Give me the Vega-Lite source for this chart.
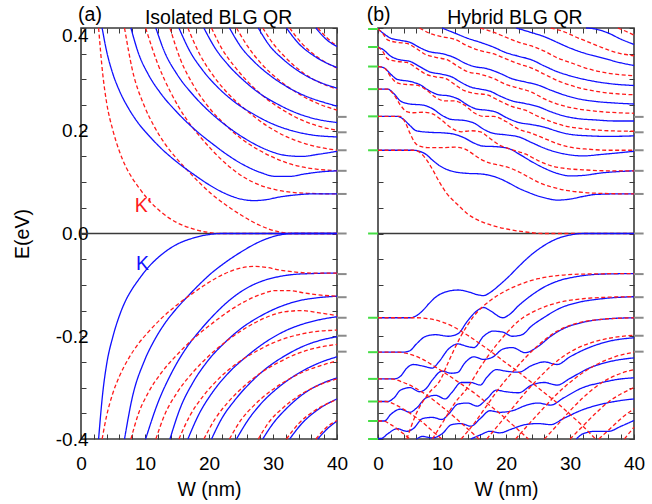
{
"$schema":"https://vega.github.io/schema/vega-lite/v6.json",
"background":"white",
"padding":{"left":11,"top":4,"right":5,"bottom":5},
"config":{"font":"Liberation Sans","view":{"stroke":"#3a3a3a","strokeWidth":1.6},
"axis":{"grid":false,"domain":false,"tickColor":"#3a3a3a","tickSize":-5,"tickWidth":1,"labelFontSize":19,"labelColor":"#000","titleFontSize":19.5,"titleFontWeight":"normal","titleColor":"#000","labelOverlap":false,"labelFlush":false}},
"datasets":{
"A":[
{"c":"R1","s":"K'","x":2.75,"y":0.4},{"c":"R1","s":"K'","x":3.4,"y":0.31},{"c":"R1","s":"K'","x":4,"y":0.255},{"c":"R1","s":"K'","x":5,"y":0.2},{"c":"R1","s":"K'","x":6,"y":0.16},{"c":"R1","s":"K'","x":7,"y":0.13},{"c":"R1","s":"K'","x":8,"y":0.108},{"c":"R1","s":"K'","x":9,"y":0.09},{"c":"R1","s":"K'","x":10.5,"y":0.066},{"c":"R1","s":"K'","x":12.5,"y":0.042},{"c":"R1","s":"K'","x":15,"y":0.021},{"c":"R1","s":"K'","x":17.5,"y":0.009},{"c":"R1","s":"K'","x":20,"y":0.002},{"c":"R1","s":"K'","x":22,"y":0},{"c":"R1","s":"K'","x":40,"y":0},
{"c":"R2","s":"K'","x":6.8,"y":0.4},{"c":"R2","s":"K'","x":8,"y":0.32},{"c":"R2","s":"K'","x":9.9,"y":0.248},{"c":"R2","s":"K'","x":11.5,"y":0.207},{"c":"R2","s":"K'","x":13.1,"y":0.175},{"c":"R2","s":"K'","x":14.8,"y":0.148},{"c":"R2","s":"K'","x":16.7,"y":0.122},{"c":"R2","s":"K'","x":18.5,"y":0.099},{"c":"R2","s":"K'","x":20.3,"y":0.078},{"c":"R2","s":"K'","x":22.7,"y":0.055},{"c":"R2","s":"K'","x":25,"y":0.036},{"c":"R2","s":"K'","x":27.9,"y":0.016},{"c":"R2","s":"K'","x":31,"y":0.003},{"c":"R2","s":"K'","x":33,"y":0},{"c":"R2","s":"K'","x":40,"y":0},
{"c":"R3","s":"K'","x":10.1,"y":0.4},{"c":"R3","s":"K'","x":12,"y":0.33},{"c":"R3","s":"K'","x":14,"y":0.275},{"c":"R3","s":"K'","x":16.5,"y":0.222},{"c":"R3","s":"K'","x":18.5,"y":0.19},{"c":"R3","s":"K'","x":20.5,"y":0.162},{"c":"R3","s":"K'","x":23,"y":0.132},{"c":"R3","s":"K'","x":25.8,"y":0.107},{"c":"R3","s":"K'","x":28,"y":0.094},{"c":"R3","s":"K'","x":30.5,"y":0.085},{"c":"R3","s":"K'","x":33,"y":0.08},{"c":"R3","s":"K'","x":36,"y":0.078},{"c":"R3","s":"K'","x":40,"y":0.077},
{"c":"R4","s":"K'","x":13.9,"y":0.4},{"c":"R4","s":"K'","x":15.5,"y":0.34},{"c":"R4","s":"K'","x":17.5,"y":0.29},{"c":"R4","s":"K'","x":20,"y":0.245},{"c":"R4","s":"K'","x":22.5,"y":0.212},{"c":"R4","s":"K'","x":25,"y":0.185},{"c":"R4","s":"K'","x":28,"y":0.161},{"c":"R4","s":"K'","x":31,"y":0.143},{"c":"R4","s":"K'","x":34,"y":0.131},{"c":"R4","s":"K'","x":37,"y":0.125},{"c":"R4","s":"K'","x":40,"y":0.122},
{"c":"R5","s":"K'","x":16.7,"y":0.4},{"c":"R5","s":"K'","x":18.5,"y":0.35},{"c":"R5","s":"K'","x":20.5,"y":0.31},{"c":"R5","s":"K'","x":23,"y":0.272},{"c":"R5","s":"K'","x":26,"y":0.238},{"c":"R5","s":"K'","x":29,"y":0.21},{"c":"R5","s":"K'","x":32,"y":0.189},{"c":"R5","s":"K'","x":35,"y":0.175},{"c":"R5","s":"K'","x":38,"y":0.166},{"c":"R5","s":"K'","x":40,"y":0.162},
{"c":"R6","s":"K'","x":20.4,"y":0.4},{"c":"R6","s":"K'","x":22,"y":0.36},{"c":"R6","s":"K'","x":24,"y":0.325},{"c":"R6","s":"K'","x":26.5,"y":0.29},{"c":"R6","s":"K'","x":29,"y":0.262},{"c":"R6","s":"K'","x":32,"y":0.237},{"c":"R6","s":"K'","x":35,"y":0.218},{"c":"R6","s":"K'","x":38,"y":0.206},{"c":"R6","s":"K'","x":40,"y":0.201},
{"c":"R7","s":"K'","x":24.3,"y":0.4},{"c":"R7","s":"K'","x":26,"y":0.365},{"c":"R7","s":"K'","x":28,"y":0.333},{"c":"R7","s":"K'","x":31,"y":0.298},{"c":"R7","s":"K'","x":34,"y":0.272},{"c":"R7","s":"K'","x":37,"y":0.253},{"c":"R7","s":"K'","x":40,"y":0.24},
{"c":"R8","s":"K'","x":28.4,"y":0.4},{"c":"R8","s":"K'","x":30,"y":0.37},{"c":"R8","s":"K'","x":32,"y":0.342},{"c":"R8","s":"K'","x":35,"y":0.31},{"c":"R8","s":"K'","x":38,"y":0.29},{"c":"R8","s":"K'","x":40,"y":0.281},
{"c":"R9","s":"K'","x":32.6,"y":0.4},{"c":"R9","s":"K'","x":34.5,"y":0.37},{"c":"R9","s":"K'","x":37,"y":0.343},{"c":"R9","s":"K'","x":40,"y":0.322},
{"c":"R10","s":"K'","x":37,"y":0.4},{"c":"R10","s":"K'","x":38.5,"y":0.38},{"c":"R10","s":"K'","x":40,"y":0.365},
{"c":"B1","s":"K","x":3.3,"y":0.4},{"c":"B1","s":"K","x":4,"y":0.355},{"c":"B1","s":"K","x":5,"y":0.31},{"c":"B1","s":"K","x":6,"y":0.278},{"c":"B1","s":"K","x":7.5,"y":0.242},{"c":"B1","s":"K","x":9,"y":0.214},{"c":"B1","s":"K","x":10.5,"y":0.192},{"c":"B1","s":"K","x":12.5,"y":0.166},{"c":"B1","s":"K","x":15,"y":0.139},{"c":"B1","s":"K","x":17.5,"y":0.116},{"c":"B1","s":"K","x":20,"y":0.095},{"c":"B1","s":"K","x":22.5,"y":0.078},{"c":"B1","s":"K","x":25,"y":0.067},{"c":"B1","s":"K","x":27,"y":0.064},{"c":"B1","s":"K","x":29,"y":0.066},{"c":"B1","s":"K","x":31,"y":0.071},{"c":"B1","s":"K","x":33.5,"y":0.075},{"c":"B1","s":"K","x":36,"y":0.077},{"c":"B1","s":"K","x":40,"y":0.077},
{"c":"B2","s":"K","x":7.8,"y":0.4},{"c":"B2","s":"K","x":9,"y":0.35},{"c":"B2","s":"K","x":10.5,"y":0.31},{"c":"B2","s":"K","x":12.5,"y":0.272},{"c":"B2","s":"K","x":15,"y":0.236},{"c":"B2","s":"K","x":18,"y":0.2},{"c":"B2","s":"K","x":20.5,"y":0.175},{"c":"B2","s":"K","x":23,"y":0.152},{"c":"B2","s":"K","x":25.5,"y":0.133},{"c":"B2","s":"K","x":28,"y":0.119},{"c":"B2","s":"K","x":30.5,"y":0.111},{"c":"B2","s":"K","x":32.5,"y":0.111},{"c":"B2","s":"K","x":35,"y":0.116},{"c":"B2","s":"K","x":37.5,"y":0.12},{"c":"B2","s":"K","x":40,"y":0.122},
{"c":"B3","s":"K","x":11.7,"y":0.4},{"c":"B3","s":"K","x":13,"y":0.355},{"c":"B3","s":"K","x":15,"y":0.31},{"c":"B3","s":"K","x":17.5,"y":0.27},{"c":"B3","s":"K","x":20,"y":0.238},{"c":"B3","s":"K","x":23,"y":0.207},{"c":"B3","s":"K","x":26,"y":0.182},{"c":"B3","s":"K","x":29,"y":0.163},{"c":"B3","s":"K","x":32,"y":0.152},{"c":"B3","s":"K","x":34.5,"y":0.15},{"c":"B3","s":"K","x":37,"y":0.154},{"c":"B3","s":"K","x":40,"y":0.16},
{"c":"B4","s":"K","x":15.3,"y":0.4},{"c":"B4","s":"K","x":17,"y":0.355},{"c":"B4","s":"K","x":19,"y":0.318},{"c":"B4","s":"K","x":21.5,"y":0.283},{"c":"B4","s":"K","x":24,"y":0.256},{"c":"B4","s":"K","x":27,"y":0.232},{"c":"B4","s":"K","x":30,"y":0.213},{"c":"B4","s":"K","x":33,"y":0.2},{"c":"B4","s":"K","x":36,"y":0.192},{"c":"B4","s":"K","x":40,"y":0.188},
{"c":"B5","s":"K","x":19.2,"y":0.4},{"c":"B5","s":"K","x":21,"y":0.36},{"c":"B5","s":"K","x":23,"y":0.328},{"c":"B5","s":"K","x":25.5,"y":0.297},{"c":"B5","s":"K","x":28,"y":0.272},{"c":"B5","s":"K","x":31,"y":0.25},{"c":"B5","s":"K","x":34,"y":0.233},{"c":"B5","s":"K","x":37,"y":0.222},{"c":"B5","s":"K","x":40,"y":0.216},
{"c":"B6","s":"K","x":23.2,"y":0.4},{"c":"B6","s":"K","x":25,"y":0.363},{"c":"B6","s":"K","x":27,"y":0.335},{"c":"B6","s":"K","x":29.5,"y":0.308},{"c":"B6","s":"K","x":32,"y":0.287},{"c":"B6","s":"K","x":35,"y":0.268},{"c":"B6","s":"K","x":38,"y":0.255},{"c":"B6","s":"K","x":40,"y":0.248},
{"c":"B7","s":"K","x":27.7,"y":0.4},{"c":"B7","s":"K","x":29.5,"y":0.365},{"c":"B7","s":"K","x":31.5,"y":0.34},{"c":"B7","s":"K","x":34,"y":0.316},{"c":"B7","s":"K","x":37,"y":0.296},{"c":"B7","s":"K","x":40,"y":0.283},
{"c":"B8","s":"K","x":32.1,"y":0.4},{"c":"B8","s":"K","x":34,"y":0.37},{"c":"B8","s":"K","x":36.5,"y":0.345},{"c":"B8","s":"K","x":40,"y":0.323},
{"c":"B9","s":"K","x":36.7,"y":0.4},{"c":"B9","s":"K","x":38.3,"y":0.378},{"c":"B9","s":"K","x":40,"y":0.364},
{"c":"LB1","s":"K","x":2.75,"y":-0.4},{"c":"LB1","s":"K","x":3.4,"y":-0.31},{"c":"LB1","s":"K","x":4,"y":-0.255},{"c":"LB1","s":"K","x":5,"y":-0.2},{"c":"LB1","s":"K","x":6,"y":-0.16},{"c":"LB1","s":"K","x":7,"y":-0.13},{"c":"LB1","s":"K","x":8,"y":-0.108},{"c":"LB1","s":"K","x":9,"y":-0.09},{"c":"LB1","s":"K","x":10.5,"y":-0.066},{"c":"LB1","s":"K","x":12.5,"y":-0.042},{"c":"LB1","s":"K","x":15,"y":-0.021},{"c":"LB1","s":"K","x":17.5,"y":-0.009},{"c":"LB1","s":"K","x":20,"y":-0.002},{"c":"LB1","s":"K","x":22,"y":0},{"c":"LB1","s":"K","x":40,"y":0},
{"c":"LB2","s":"K","x":6.8,"y":-0.4},{"c":"LB2","s":"K","x":8,"y":-0.32},{"c":"LB2","s":"K","x":9.9,"y":-0.248},{"c":"LB2","s":"K","x":11.5,"y":-0.207},{"c":"LB2","s":"K","x":13.1,"y":-0.175},{"c":"LB2","s":"K","x":14.8,"y":-0.148},{"c":"LB2","s":"K","x":16.7,"y":-0.122},{"c":"LB2","s":"K","x":18.5,"y":-0.099},{"c":"LB2","s":"K","x":20.3,"y":-0.078},{"c":"LB2","s":"K","x":22.7,"y":-0.055},{"c":"LB2","s":"K","x":25,"y":-0.036},{"c":"LB2","s":"K","x":27.9,"y":-0.016},{"c":"LB2","s":"K","x":31,"y":-0.003},{"c":"LB2","s":"K","x":33,"y":0},{"c":"LB2","s":"K","x":40,"y":0},
{"c":"LB3","s":"K","x":10.1,"y":-0.4},{"c":"LB3","s":"K","x":12,"y":-0.33},{"c":"LB3","s":"K","x":14,"y":-0.275},{"c":"LB3","s":"K","x":16.5,"y":-0.222},{"c":"LB3","s":"K","x":18.5,"y":-0.19},{"c":"LB3","s":"K","x":20.5,"y":-0.162},{"c":"LB3","s":"K","x":23,"y":-0.132},{"c":"LB3","s":"K","x":25.8,"y":-0.107},{"c":"LB3","s":"K","x":28,"y":-0.094},{"c":"LB3","s":"K","x":30.5,"y":-0.085},{"c":"LB3","s":"K","x":33,"y":-0.08},{"c":"LB3","s":"K","x":36,"y":-0.078},{"c":"LB3","s":"K","x":40,"y":-0.077},
{"c":"LB4","s":"K","x":13.9,"y":-0.4},{"c":"LB4","s":"K","x":15.5,"y":-0.34},{"c":"LB4","s":"K","x":17.5,"y":-0.29},{"c":"LB4","s":"K","x":20,"y":-0.245},{"c":"LB4","s":"K","x":22.5,"y":-0.212},{"c":"LB4","s":"K","x":25,"y":-0.185},{"c":"LB4","s":"K","x":28,"y":-0.161},{"c":"LB4","s":"K","x":31,"y":-0.143},{"c":"LB4","s":"K","x":34,"y":-0.131},{"c":"LB4","s":"K","x":37,"y":-0.125},{"c":"LB4","s":"K","x":40,"y":-0.122},
{"c":"LB5","s":"K","x":16.7,"y":-0.4},{"c":"LB5","s":"K","x":18.5,"y":-0.35},{"c":"LB5","s":"K","x":20.5,"y":-0.31},{"c":"LB5","s":"K","x":23,"y":-0.272},{"c":"LB5","s":"K","x":26,"y":-0.238},{"c":"LB5","s":"K","x":29,"y":-0.21},{"c":"LB5","s":"K","x":32,"y":-0.189},{"c":"LB5","s":"K","x":35,"y":-0.175},{"c":"LB5","s":"K","x":38,"y":-0.166},{"c":"LB5","s":"K","x":40,"y":-0.162},
{"c":"LB6","s":"K","x":20.4,"y":-0.4},{"c":"LB6","s":"K","x":22,"y":-0.36},{"c":"LB6","s":"K","x":24,"y":-0.325},{"c":"LB6","s":"K","x":26.5,"y":-0.29},{"c":"LB6","s":"K","x":29,"y":-0.262},{"c":"LB6","s":"K","x":32,"y":-0.237},{"c":"LB6","s":"K","x":35,"y":-0.218},{"c":"LB6","s":"K","x":38,"y":-0.206},{"c":"LB6","s":"K","x":40,"y":-0.201},
{"c":"LB7","s":"K","x":24.3,"y":-0.4},{"c":"LB7","s":"K","x":26,"y":-0.365},{"c":"LB7","s":"K","x":28,"y":-0.333},{"c":"LB7","s":"K","x":31,"y":-0.298},{"c":"LB7","s":"K","x":34,"y":-0.272},{"c":"LB7","s":"K","x":37,"y":-0.253},{"c":"LB7","s":"K","x":40,"y":-0.24},
{"c":"LB8","s":"K","x":28.4,"y":-0.4},{"c":"LB8","s":"K","x":30,"y":-0.37},{"c":"LB8","s":"K","x":32,"y":-0.342},{"c":"LB8","s":"K","x":35,"y":-0.31},{"c":"LB8","s":"K","x":38,"y":-0.29},{"c":"LB8","s":"K","x":40,"y":-0.281},
{"c":"LB9","s":"K","x":32.6,"y":-0.4},{"c":"LB9","s":"K","x":34.5,"y":-0.37},{"c":"LB9","s":"K","x":37,"y":-0.343},{"c":"LB9","s":"K","x":40,"y":-0.322},
{"c":"LB10","s":"K","x":37,"y":-0.4},{"c":"LB10","s":"K","x":38.5,"y":-0.38},{"c":"LB10","s":"K","x":40,"y":-0.365},
{"c":"LR1","s":"K'","x":3.3,"y":-0.4},{"c":"LR1","s":"K'","x":4,"y":-0.355},{"c":"LR1","s":"K'","x":5,"y":-0.31},{"c":"LR1","s":"K'","x":6,"y":-0.278},{"c":"LR1","s":"K'","x":7.5,"y":-0.242},{"c":"LR1","s":"K'","x":9,"y":-0.214},{"c":"LR1","s":"K'","x":10.5,"y":-0.192},{"c":"LR1","s":"K'","x":12.5,"y":-0.166},{"c":"LR1","s":"K'","x":15,"y":-0.139},{"c":"LR1","s":"K'","x":17.5,"y":-0.116},{"c":"LR1","s":"K'","x":20,"y":-0.095},{"c":"LR1","s":"K'","x":22.5,"y":-0.078},{"c":"LR1","s":"K'","x":25,"y":-0.067},{"c":"LR1","s":"K'","x":27,"y":-0.064},{"c":"LR1","s":"K'","x":29,"y":-0.066},{"c":"LR1","s":"K'","x":31,"y":-0.071},{"c":"LR1","s":"K'","x":33.5,"y":-0.075},{"c":"LR1","s":"K'","x":36,"y":-0.077},{"c":"LR1","s":"K'","x":40,"y":-0.077},
{"c":"LR2","s":"K'","x":7.8,"y":-0.4},{"c":"LR2","s":"K'","x":9,"y":-0.35},{"c":"LR2","s":"K'","x":10.5,"y":-0.31},{"c":"LR2","s":"K'","x":12.5,"y":-0.272},{"c":"LR2","s":"K'","x":15,"y":-0.236},{"c":"LR2","s":"K'","x":18,"y":-0.2},{"c":"LR2","s":"K'","x":20.5,"y":-0.175},{"c":"LR2","s":"K'","x":23,"y":-0.152},{"c":"LR2","s":"K'","x":25.5,"y":-0.133},{"c":"LR2","s":"K'","x":28,"y":-0.119},{"c":"LR2","s":"K'","x":30.5,"y":-0.111},{"c":"LR2","s":"K'","x":32.5,"y":-0.111},{"c":"LR2","s":"K'","x":35,"y":-0.116},{"c":"LR2","s":"K'","x":37.5,"y":-0.12},{"c":"LR2","s":"K'","x":40,"y":-0.122},
{"c":"LR3","s":"K'","x":11.7,"y":-0.4},{"c":"LR3","s":"K'","x":13,"y":-0.355},{"c":"LR3","s":"K'","x":15,"y":-0.31},{"c":"LR3","s":"K'","x":17.5,"y":-0.27},{"c":"LR3","s":"K'","x":20,"y":-0.238},{"c":"LR3","s":"K'","x":23,"y":-0.207},{"c":"LR3","s":"K'","x":26,"y":-0.182},{"c":"LR3","s":"K'","x":29,"y":-0.163},{"c":"LR3","s":"K'","x":32,"y":-0.152},{"c":"LR3","s":"K'","x":34.5,"y":-0.15},{"c":"LR3","s":"K'","x":37,"y":-0.154},{"c":"LR3","s":"K'","x":40,"y":-0.16},
{"c":"LR4","s":"K'","x":15.3,"y":-0.4},{"c":"LR4","s":"K'","x":17,"y":-0.355},{"c":"LR4","s":"K'","x":19,"y":-0.318},{"c":"LR4","s":"K'","x":21.5,"y":-0.283},{"c":"LR4","s":"K'","x":24,"y":-0.256},{"c":"LR4","s":"K'","x":27,"y":-0.232},{"c":"LR4","s":"K'","x":30,"y":-0.213},{"c":"LR4","s":"K'","x":33,"y":-0.2},{"c":"LR4","s":"K'","x":36,"y":-0.192},{"c":"LR4","s":"K'","x":40,"y":-0.188},
{"c":"LR5","s":"K'","x":19.2,"y":-0.4},{"c":"LR5","s":"K'","x":21,"y":-0.36},{"c":"LR5","s":"K'","x":23,"y":-0.328},{"c":"LR5","s":"K'","x":25.5,"y":-0.297},{"c":"LR5","s":"K'","x":28,"y":-0.272},{"c":"LR5","s":"K'","x":31,"y":-0.25},{"c":"LR5","s":"K'","x":34,"y":-0.233},{"c":"LR5","s":"K'","x":37,"y":-0.222},{"c":"LR5","s":"K'","x":40,"y":-0.216},
{"c":"LR6","s":"K'","x":23.2,"y":-0.4},{"c":"LR6","s":"K'","x":25,"y":-0.363},{"c":"LR6","s":"K'","x":27,"y":-0.335},{"c":"LR6","s":"K'","x":29.5,"y":-0.308},{"c":"LR6","s":"K'","x":32,"y":-0.287},{"c":"LR6","s":"K'","x":35,"y":-0.268},{"c":"LR6","s":"K'","x":38,"y":-0.255},{"c":"LR6","s":"K'","x":40,"y":-0.248},
{"c":"LR7","s":"K'","x":27.7,"y":-0.4},{"c":"LR7","s":"K'","x":29.5,"y":-0.365},{"c":"LR7","s":"K'","x":31.5,"y":-0.34},{"c":"LR7","s":"K'","x":34,"y":-0.316},{"c":"LR7","s":"K'","x":37,"y":-0.296},{"c":"LR7","s":"K'","x":40,"y":-0.283},
{"c":"LR8","s":"K'","x":32.1,"y":-0.4},{"c":"LR8","s":"K'","x":34,"y":-0.37},{"c":"LR8","s":"K'","x":36.5,"y":-0.345},{"c":"LR8","s":"K'","x":40,"y":-0.323},
{"c":"LR9","s":"K'","x":36.7,"y":-0.4},{"c":"LR9","s":"K'","x":38.3,"y":-0.378},{"c":"LR9","s":"K'","x":40,"y":-0.364}
],
"B":[
{"c":"B1","s":"K","x":0,"y":0.162},{"c":"B1","s":"K","x":5.5,"y":0.162},{"c":"B1","s":"K","x":6.5,"y":0.16},{"c":"B1","s":"K","x":7.5,"y":0.154},{"c":"B1","s":"K","x":8.5,"y":0.143},{"c":"B1","s":"K","x":9.5,"y":0.133},{"c":"B1","s":"K","x":10.5,"y":0.126},{"c":"B1","s":"K","x":12,"y":0.12},{"c":"B1","s":"K","x":14,"y":0.117},{"c":"B1","s":"K","x":16,"y":0.116},{"c":"B1","s":"K","x":17.5,"y":0.113},{"c":"B1","s":"K","x":19,"y":0.107},{"c":"B1","s":"K","x":20.5,"y":0.098},{"c":"B1","s":"K","x":22,"y":0.088},{"c":"B1","s":"K","x":23.5,"y":0.08},{"c":"B1","s":"K","x":25,"y":0.073},{"c":"B1","s":"K","x":26.5,"y":0.068},{"c":"B1","s":"K","x":28,"y":0.065},{"c":"B1","s":"K","x":30,"y":0.067},{"c":"B1","s":"K","x":32,"y":0.072},{"c":"B1","s":"K","x":34,"y":0.076},{"c":"B1","s":"K","x":37,"y":0.077},{"c":"B1","s":"K","x":40,"y":0.077},
{"c":"B2","s":"K","x":0,"y":0.228},{"c":"B2","s":"K","x":3,"y":0.228},{"c":"B2","s":"K","x":4,"y":0.222},{"c":"B2","s":"K","x":5,"y":0.21},{"c":"B2","s":"K","x":6,"y":0.2},{"c":"B2","s":"K","x":8,"y":0.197},{"c":"B2","s":"K","x":10,"y":0.196},{"c":"B2","s":"K","x":12,"y":0.193},{"c":"B2","s":"K","x":13.5,"y":0.186},{"c":"B2","s":"K","x":15,"y":0.176},{"c":"B2","s":"K","x":16.5,"y":0.17},{"c":"B2","s":"K","x":18.5,"y":0.169},{"c":"B2","s":"K","x":20.5,"y":0.165},{"c":"B2","s":"K","x":22,"y":0.155},{"c":"B2","s":"K","x":24,"y":0.14},{"c":"B2","s":"K","x":26,"y":0.127},{"c":"B2","s":"K","x":28,"y":0.117},{"c":"B2","s":"K","x":30,"y":0.112},{"c":"B2","s":"K","x":32,"y":0.113},{"c":"B2","s":"K","x":35,"y":0.118},{"c":"B2","s":"K","x":40,"y":0.122},
{"c":"B3","s":"K","x":0,"y":0.281},{"c":"B3","s":"K","x":1.5,"y":0.281},{"c":"B3","s":"K","x":2.5,"y":0.272},{"c":"B3","s":"K","x":3.5,"y":0.258},{"c":"B3","s":"K","x":5,"y":0.252},{"c":"B3","s":"K","x":7,"y":0.25},{"c":"B3","s":"K","x":8.5,"y":0.243},{"c":"B3","s":"K","x":10,"y":0.23},{"c":"B3","s":"K","x":11.5,"y":0.222},{"c":"B3","s":"K","x":13.5,"y":0.22},{"c":"B3","s":"K","x":15,"y":0.215},{"c":"B3","s":"K","x":16.5,"y":0.203},{"c":"B3","s":"K","x":18,"y":0.195},{"c":"B3","s":"K","x":20,"y":0.192},{"c":"B3","s":"K","x":22,"y":0.188},{"c":"B3","s":"K","x":24,"y":0.177},{"c":"B3","s":"K","x":26,"y":0.166},{"c":"B3","s":"K","x":28,"y":0.158},{"c":"B3","s":"K","x":30,"y":0.153},{"c":"B3","s":"K","x":32,"y":0.151},{"c":"B3","s":"K","x":35,"y":0.154},{"c":"B3","s":"K","x":40,"y":0.16},
{"c":"B4","s":"K","x":0,"y":0.325},{"c":"B4","s":"K","x":1,"y":0.322},{"c":"B4","s":"K","x":2,"y":0.31},{"c":"B4","s":"K","x":3,"y":0.3},{"c":"B4","s":"K","x":5,"y":0.296},{"c":"B4","s":"K","x":6.5,"y":0.29},{"c":"B4","s":"K","x":8,"y":0.278},{"c":"B4","s":"K","x":9.5,"y":0.27},{"c":"B4","s":"K","x":11,"y":0.268},{"c":"B4","s":"K","x":12.5,"y":0.262},{"c":"B4","s":"K","x":14,"y":0.25},{"c":"B4","s":"K","x":15.5,"y":0.242},{"c":"B4","s":"K","x":17,"y":0.24},{"c":"B4","s":"K","x":18.5,"y":0.236},{"c":"B4","s":"K","x":20,"y":0.226},{"c":"B4","s":"K","x":22,"y":0.216},{"c":"B4","s":"K","x":24,"y":0.212},{"c":"B4","s":"K","x":26,"y":0.207},{"c":"B4","s":"K","x":28,"y":0.199},{"c":"B4","s":"K","x":30,"y":0.193},{"c":"B4","s":"K","x":33,"y":0.19},{"c":"B4","s":"K","x":36,"y":0.189},{"c":"B4","s":"K","x":40,"y":0.19},
{"c":"B5","s":"K","x":0,"y":0.363},{"c":"B5","s":"K","x":0.8,"y":0.358},{"c":"B5","s":"K","x":2,"y":0.345},{"c":"B5","s":"K","x":3.5,"y":0.338},{"c":"B5","s":"K","x":5,"y":0.335},{"c":"B5","s":"K","x":6.5,"y":0.325},{"c":"B5","s":"K","x":8,"y":0.315},{"c":"B5","s":"K","x":10,"y":0.31},{"c":"B5","s":"K","x":11.5,"y":0.305},{"c":"B5","s":"K","x":13,"y":0.294},{"c":"B5","s":"K","x":14.5,"y":0.285},{"c":"B5","s":"K","x":16,"y":0.281},{"c":"B5","s":"K","x":17.5,"y":0.277},{"c":"B5","s":"K","x":19,"y":0.268},{"c":"B5","s":"K","x":21,"y":0.258},{"c":"B5","s":"K","x":23,"y":0.253},{"c":"B5","s":"K","x":25,"y":0.247},{"c":"B5","s":"K","x":27,"y":0.237},{"c":"B5","s":"K","x":29,"y":0.229},{"c":"B5","s":"K","x":31,"y":0.224},{"c":"B5","s":"K","x":34,"y":0.221},{"c":"B5","s":"K","x":37,"y":0.219},{"c":"B5","s":"K","x":40,"y":0.219},
{"c":"B6","s":"K","x":0,"y":0.398},{"c":"B6","s":"K","x":0.8,"y":0.39},{"c":"B6","s":"K","x":2,"y":0.38},{"c":"B6","s":"K","x":3.5,"y":0.376},{"c":"B6","s":"K","x":5,"y":0.372},{"c":"B6","s":"K","x":6.5,"y":0.362},{"c":"B6","s":"K","x":8,"y":0.354},{"c":"B6","s":"K","x":10,"y":0.35},{"c":"B6","s":"K","x":12,"y":0.342},{"c":"B6","s":"K","x":13.5,"y":0.332},{"c":"B6","s":"K","x":15,"y":0.325},{"c":"B6","s":"K","x":17,"y":0.321},{"c":"B6","s":"K","x":19,"y":0.312},{"c":"B6","s":"K","x":21,"y":0.301},{"c":"B6","s":"K","x":23,"y":0.295},{"c":"B6","s":"K","x":25,"y":0.289},{"c":"B6","s":"K","x":27,"y":0.279},{"c":"B6","s":"K","x":29,"y":0.27},{"c":"B6","s":"K","x":31,"y":0.263},{"c":"B6","s":"K","x":34,"y":0.257},{"c":"B6","s":"K","x":37,"y":0.254},{"c":"B6","s":"K","x":40,"y":0.252},
{"c":"B7","s":"K","x":10,"y":0.4},{"c":"B7","s":"K","x":12,"y":0.39},{"c":"B7","s":"K","x":14,"y":0.38},{"c":"B7","s":"K","x":16,"y":0.372},{"c":"B7","s":"K","x":18,"y":0.363},{"c":"B7","s":"K","x":20,"y":0.352},{"c":"B7","s":"K","x":22,"y":0.345},{"c":"B7","s":"K","x":24,"y":0.338},{"c":"B7","s":"K","x":26,"y":0.326},{"c":"B7","s":"K","x":28,"y":0.315},{"c":"B7","s":"K","x":30,"y":0.307},{"c":"B7","s":"K","x":33,"y":0.298},{"c":"B7","s":"K","x":36,"y":0.292},{"c":"B7","s":"K","x":40,"y":0.288},
{"c":"B8","s":"K","x":21.6,"y":0.4},{"c":"B8","s":"K","x":24,"y":0.391},{"c":"B8","s":"K","x":26,"y":0.383},{"c":"B8","s":"K","x":28,"y":0.372},{"c":"B8","s":"K","x":30,"y":0.361},{"c":"B8","s":"K","x":32,"y":0.352},{"c":"B8","s":"K","x":35,"y":0.342},{"c":"B8","s":"K","x":38,"y":0.332},{"c":"B8","s":"K","x":40,"y":0.327},
{"c":"B9","s":"K","x":32.5,"y":0.4},{"c":"B9","s":"K","x":34,"y":0.398},{"c":"B9","s":"K","x":36,"y":0.39},{"c":"B9","s":"K","x":38,"y":0.378},{"c":"B9","s":"K","x":40,"y":0.368},
{"c":"R1","s":"K'","x":0,"y":0.162},{"c":"R1","s":"K'","x":5.5,"y":0.162},{"c":"R1","s":"K'","x":6.5,"y":0.158},{"c":"R1","s":"K'","x":7.5,"y":0.145},{"c":"R1","s":"K'","x":8.5,"y":0.125},{"c":"R1","s":"K'","x":9.6,"y":0.1},{"c":"R1","s":"K'","x":10.8,"y":0.077},{"c":"R1","s":"K'","x":12.3,"y":0.058},{"c":"R1","s":"K'","x":14,"y":0.038},{"c":"R1","s":"K'","x":16,"y":0.024},{"c":"R1","s":"K'","x":18,"y":0.015},{"c":"R1","s":"K'","x":20,"y":0.009},{"c":"R1","s":"K'","x":23,"y":0.003},{"c":"R1","s":"K'","x":26,"y":0},{"c":"R1","s":"K'","x":40,"y":0},
{"c":"R2","s":"K'","x":0,"y":0.228},{"c":"R2","s":"K'","x":3.5,"y":0.228},{"c":"R2","s":"K'","x":4.3,"y":0.215},{"c":"R2","s":"K'","x":5,"y":0.195},{"c":"R2","s":"K'","x":5.7,"y":0.178},{"c":"R2","s":"K'","x":6.5,"y":0.17},{"c":"R2","s":"K'","x":8,"y":0.167},{"c":"R2","s":"K'","x":10,"y":0.167},{"c":"R2","s":"K'","x":12,"y":0.168},{"c":"R2","s":"K'","x":13.5,"y":0.165},{"c":"R2","s":"K'","x":14.8,"y":0.155},{"c":"R2","s":"K'","x":16,"y":0.145},{"c":"R2","s":"K'","x":17.5,"y":0.137},{"c":"R2","s":"K'","x":19,"y":0.133},{"c":"R2","s":"K'","x":20.5,"y":0.128},{"c":"R2","s":"K'","x":22,"y":0.12},{"c":"R2","s":"K'","x":23.5,"y":0.11},{"c":"R2","s":"K'","x":25,"y":0.1},{"c":"R2","s":"K'","x":27,"y":0.091},{"c":"R2","s":"K'","x":29,"y":0.085},{"c":"R2","s":"K'","x":32,"y":0.08},{"c":"R2","s":"K'","x":35,"y":0.078},{"c":"R2","s":"K'","x":40,"y":0.077},
{"c":"R3","s":"K'","x":0,"y":0.281},{"c":"R3","s":"K'","x":1.5,"y":0.281},{"c":"R3","s":"K'","x":2.5,"y":0.27},{"c":"R3","s":"K'","x":3.5,"y":0.25},{"c":"R3","s":"K'","x":4.5,"y":0.237},{"c":"R3","s":"K'","x":5.5,"y":0.235},{"c":"R3","s":"K'","x":7,"y":0.236},{"c":"R3","s":"K'","x":8.5,"y":0.233},{"c":"R3","s":"K'","x":10,"y":0.22},{"c":"R3","s":"K'","x":11.5,"y":0.205},{"c":"R3","s":"K'","x":13,"y":0.198},{"c":"R3","s":"K'","x":14.5,"y":0.2},{"c":"R3","s":"K'","x":16,"y":0.198},{"c":"R3","s":"K'","x":17.5,"y":0.185},{"c":"R3","s":"K'","x":19,"y":0.172},{"c":"R3","s":"K'","x":21,"y":0.163},{"c":"R3","s":"K'","x":23,"y":0.155},{"c":"R3","s":"K'","x":25,"y":0.142},{"c":"R3","s":"K'","x":27,"y":0.132},{"c":"R3","s":"K'","x":29,"y":0.127},{"c":"R3","s":"K'","x":32,"y":0.124},{"c":"R3","s":"K'","x":36,"y":0.122},{"c":"R3","s":"K'","x":40,"y":0.122},
{"c":"R4","s":"K'","x":0,"y":0.325},{"c":"R4","s":"K'","x":1,"y":0.322},{"c":"R4","s":"K'","x":2,"y":0.305},{"c":"R4","s":"K'","x":3,"y":0.293},{"c":"R4","s":"K'","x":4.5,"y":0.29},{"c":"R4","s":"K'","x":6,"y":0.289},{"c":"R4","s":"K'","x":7.5,"y":0.28},{"c":"R4","s":"K'","x":9,"y":0.265},{"c":"R4","s":"K'","x":10.5,"y":0.258},{"c":"R4","s":"K'","x":12,"y":0.258},{"c":"R4","s":"K'","x":13.5,"y":0.25},{"c":"R4","s":"K'","x":15,"y":0.235},{"c":"R4","s":"K'","x":16.5,"y":0.228},{"c":"R4","s":"K'","x":18,"y":0.228},{"c":"R4","s":"K'","x":20,"y":0.218},{"c":"R4","s":"K'","x":22,"y":0.203},{"c":"R4","s":"K'","x":24,"y":0.195},{"c":"R4","s":"K'","x":26,"y":0.185},{"c":"R4","s":"K'","x":28,"y":0.175},{"c":"R4","s":"K'","x":30,"y":0.168},{"c":"R4","s":"K'","x":33,"y":0.164},{"c":"R4","s":"K'","x":36,"y":0.162},{"c":"R4","s":"K'","x":40,"y":0.162},
{"c":"R5","s":"K'","x":0,"y":0.363},{"c":"R5","s":"K'","x":0.7,"y":0.355},{"c":"R5","s":"K'","x":1.5,"y":0.34},{"c":"R5","s":"K'","x":3,"y":0.335},{"c":"R5","s":"K'","x":4.5,"y":0.333},{"c":"R5","s":"K'","x":6,"y":0.322},{"c":"R5","s":"K'","x":7.5,"y":0.31},{"c":"R5","s":"K'","x":9,"y":0.305},{"c":"R5","s":"K'","x":10.5,"y":0.302},{"c":"R5","s":"K'","x":12,"y":0.29},{"c":"R5","s":"K'","x":13.5,"y":0.278},{"c":"R5","s":"K'","x":15,"y":0.273},{"c":"R5","s":"K'","x":17,"y":0.27},{"c":"R5","s":"K'","x":19,"y":0.258},{"c":"R5","s":"K'","x":21,"y":0.247},{"c":"R5","s":"K'","x":23,"y":0.24},{"c":"R5","s":"K'","x":25,"y":0.228},{"c":"R5","s":"K'","x":27,"y":0.218},{"c":"R5","s":"K'","x":29,"y":0.21},{"c":"R5","s":"K'","x":32,"y":0.204},{"c":"R5","s":"K'","x":36,"y":0.2},{"c":"R5","s":"K'","x":40,"y":0.199},
{"c":"R6","s":"K'","x":0,"y":0.398},{"c":"R6","s":"K'","x":0.7,"y":0.39},{"c":"R6","s":"K'","x":1.5,"y":0.377},{"c":"R6","s":"K'","x":3,"y":0.372},{"c":"R6","s":"K'","x":4.5,"y":0.37},{"c":"R6","s":"K'","x":6,"y":0.36},{"c":"R6","s":"K'","x":7.5,"y":0.348},{"c":"R6","s":"K'","x":9,"y":0.343},{"c":"R6","s":"K'","x":11,"y":0.337},{"c":"R6","s":"K'","x":12.5,"y":0.325},{"c":"R6","s":"K'","x":14,"y":0.315},{"c":"R6","s":"K'","x":16,"y":0.31},{"c":"R6","s":"K'","x":18,"y":0.302},{"c":"R6","s":"K'","x":20,"y":0.29},{"c":"R6","s":"K'","x":22,"y":0.283},{"c":"R6","s":"K'","x":24,"y":0.275},{"c":"R6","s":"K'","x":26,"y":0.262},{"c":"R6","s":"K'","x":28,"y":0.252},{"c":"R6","s":"K'","x":31,"y":0.243},{"c":"R6","s":"K'","x":35,"y":0.237},{"c":"R6","s":"K'","x":40,"y":0.234},
{"c":"R7","s":"K'","x":6.5,"y":0.4},{"c":"R7","s":"K'","x":8,"y":0.39},{"c":"R7","s":"K'","x":10,"y":0.383},{"c":"R7","s":"K'","x":12,"y":0.378},{"c":"R7","s":"K'","x":14,"y":0.365},{"c":"R7","s":"K'","x":16,"y":0.356},{"c":"R7","s":"K'","x":18,"y":0.35},{"c":"R7","s":"K'","x":20,"y":0.34},{"c":"R7","s":"K'","x":22,"y":0.33},{"c":"R7","s":"K'","x":24,"y":0.322},{"c":"R7","s":"K'","x":26,"y":0.31},{"c":"R7","s":"K'","x":28,"y":0.298},{"c":"R7","s":"K'","x":31,"y":0.285},{"c":"R7","s":"K'","x":35,"y":0.275},{"c":"R7","s":"K'","x":40,"y":0.27},
{"c":"R8","s":"K'","x":16,"y":0.4},{"c":"R8","s":"K'","x":18,"y":0.392},{"c":"R8","s":"K'","x":20,"y":0.382},{"c":"R8","s":"K'","x":22,"y":0.372},{"c":"R8","s":"K'","x":24,"y":0.365},{"c":"R8","s":"K'","x":26,"y":0.355},{"c":"R8","s":"K'","x":28,"y":0.342},{"c":"R8","s":"K'","x":30,"y":0.333},{"c":"R8","s":"K'","x":33,"y":0.32},{"c":"R8","s":"K'","x":36,"y":0.312},{"c":"R8","s":"K'","x":40,"y":0.307},
{"c":"R9","s":"K'","x":27,"y":0.4},{"c":"R9","s":"K'","x":29,"y":0.393},{"c":"R9","s":"K'","x":31,"y":0.382},{"c":"R9","s":"K'","x":33,"y":0.372},{"c":"R9","s":"K'","x":35,"y":0.362},{"c":"R9","s":"K'","x":37,"y":0.353},{"c":"R9","s":"K'","x":40,"y":0.346},
{"c":"R10","s":"K'","x":37.5,"y":0.4},{"c":"R10","s":"K'","x":39,"y":0.392},{"c":"R10","s":"K'","x":40,"y":0.386},
{"c":"LB1","s":"K","x":0,"y":-0.164},{"c":"LB1","s":"K","x":5,"y":-0.164},{"c":"LB1","s":"K","x":6,"y":-0.16},{"c":"LB1","s":"K","x":7,"y":-0.15},{"c":"LB1","s":"K","x":8,"y":-0.136},{"c":"LB1","s":"K","x":9,"y":-0.124},{"c":"LB1","s":"K","x":10.5,"y":-0.114},{"c":"LB1","s":"K","x":12.5,"y":-0.11},{"c":"LB1","s":"K","x":14,"y":-0.113},{"c":"LB1","s":"K","x":15.5,"y":-0.119},{"c":"LB1","s":"K","x":16.5,"y":-0.121},{"c":"LB1","s":"K","x":17.5,"y":-0.115},{"c":"LB1","s":"K","x":19,"y":-0.1},{"c":"LB1","s":"K","x":20.5,"y":-0.083},{"c":"LB1","s":"K","x":22,"y":-0.064},{"c":"LB1","s":"K","x":24,"y":-0.041},{"c":"LB1","s":"K","x":26,"y":-0.023},{"c":"LB1","s":"K","x":28,"y":-0.01},{"c":"LB1","s":"K","x":30,"y":-0.003},{"c":"LB1","s":"K","x":32,"y":0},{"c":"LB1","s":"K","x":40,"y":0},
{"c":"LB2","s":"K","x":0,"y":-0.231},{"c":"LB2","s":"K","x":4,"y":-0.231},{"c":"LB2","s":"K","x":5,"y":-0.228},{"c":"LB2","s":"K","x":6,"y":-0.215},{"c":"LB2","s":"K","x":7.5,"y":-0.2},{"c":"LB2","s":"K","x":9,"y":-0.197},{"c":"LB2","s":"K","x":11,"y":-0.2},{"c":"LB2","s":"K","x":12.5,"y":-0.195},{"c":"LB2","s":"K","x":14,"y":-0.17},{"c":"LB2","s":"K","x":15.5,"y":-0.15},{"c":"LB2","s":"K","x":16.5,"y":-0.144},{"c":"LB2","s":"K","x":17.5,"y":-0.15},{"c":"LB2","s":"K","x":19.5,"y":-0.164},{"c":"LB2","s":"K","x":20.5,"y":-0.158},{"c":"LB2","s":"K","x":22,"y":-0.14},{"c":"LB2","s":"K","x":24,"y":-0.12},{"c":"LB2","s":"K","x":26,"y":-0.104},{"c":"LB2","s":"K","x":28,"y":-0.093},{"c":"LB2","s":"K","x":31,"y":-0.084},{"c":"LB2","s":"K","x":35,"y":-0.079},{"c":"LB2","s":"K","x":40,"y":-0.078},
{"c":"LB3","s":"K","x":0,"y":-0.283},{"c":"LB3","s":"K","x":2.5,"y":-0.283},{"c":"LB3","s":"K","x":3.5,"y":-0.278},{"c":"LB3","s":"K","x":4.5,"y":-0.262},{"c":"LB3","s":"K","x":5.5,"y":-0.255},{"c":"LB3","s":"K","x":7,"y":-0.258},{"c":"LB3","s":"K","x":8.5,"y":-0.262},{"c":"LB3","s":"K","x":9.5,"y":-0.25},{"c":"LB3","s":"K","x":11,"y":-0.225},{"c":"LB3","s":"K","x":12.5,"y":-0.215},{"c":"LB3","s":"K","x":14,"y":-0.22},{"c":"LB3","s":"K","x":15,"y":-0.222},{"c":"LB3","s":"K","x":16.5,"y":-0.2},{"c":"LB3","s":"K","x":18,"y":-0.19},{"c":"LB3","s":"K","x":19.5,"y":-0.192},{"c":"LB3","s":"K","x":21,"y":-0.2},{"c":"LB3","s":"K","x":22.5,"y":-0.197},{"c":"LB3","s":"K","x":24,"y":-0.18},{"c":"LB3","s":"K","x":26,"y":-0.163},{"c":"LB3","s":"K","x":28.5,"y":-0.145},{"c":"LB3","s":"K","x":31,"y":-0.135},{"c":"LB3","s":"K","x":35,"y":-0.127},{"c":"LB3","s":"K","x":40,"y":-0.123},
{"c":"LB4","s":"K","x":0,"y":-0.327},{"c":"LB4","s":"K","x":1.5,"y":-0.327},{"c":"LB4","s":"K","x":2.5,"y":-0.32},{"c":"LB4","s":"K","x":3.5,"y":-0.305},{"c":"LB4","s":"K","x":5,"y":-0.3},{"c":"LB4","s":"K","x":6.5,"y":-0.308},{"c":"LB4","s":"K","x":7.5,"y":-0.302},{"c":"LB4","s":"K","x":8.5,"y":-0.285},{"c":"LB4","s":"K","x":10,"y":-0.268},{"c":"LB4","s":"K","x":11.5,"y":-0.272},{"c":"LB4","s":"K","x":12.5,"y":-0.27},{"c":"LB4","s":"K","x":13.5,"y":-0.253},{"c":"LB4","s":"K","x":15,"y":-0.24},{"c":"LB4","s":"K","x":16.5,"y":-0.245},{"c":"LB4","s":"K","x":18,"y":-0.24},{"c":"LB4","s":"K","x":19.5,"y":-0.225},{"c":"LB4","s":"K","x":21,"y":-0.222},{"c":"LB4","s":"K","x":23,"y":-0.232},{"c":"LB4","s":"K","x":25,"y":-0.22},{"c":"LB4","s":"K","x":27,"y":-0.2},{"c":"LB4","s":"K","x":29,"y":-0.185},{"c":"LB4","s":"K","x":32,"y":-0.173},{"c":"LB4","s":"K","x":36,"y":-0.166},{"c":"LB4","s":"K","x":40,"y":-0.164},
{"c":"LB5","s":"K","x":0,"y":-0.365},{"c":"LB5","s":"K","x":1,"y":-0.365},{"c":"LB5","s":"K","x":2,"y":-0.352},{"c":"LB5","s":"K","x":3.5,"y":-0.342},{"c":"LB5","s":"K","x":5,"y":-0.348},{"c":"LB5","s":"K","x":6,"y":-0.34},{"c":"LB5","s":"K","x":7.5,"y":-0.32},{"c":"LB5","s":"K","x":9,"y":-0.315},{"c":"LB5","s":"K","x":10.5,"y":-0.322},{"c":"LB5","s":"K","x":11.5,"y":-0.31},{"c":"LB5","s":"K","x":13,"y":-0.29},{"c":"LB5","s":"K","x":14.5,"y":-0.29},{"c":"LB5","s":"K","x":16,"y":-0.295},{"c":"LB5","s":"K","x":17,"y":-0.28},{"c":"LB5","s":"K","x":18.5,"y":-0.265},{"c":"LB5","s":"K","x":20,"y":-0.268},{"c":"LB5","s":"K","x":22,"y":-0.27},{"c":"LB5","s":"K","x":24,"y":-0.257},{"c":"LB5","s":"K","x":26,"y":-0.25},{"c":"LB5","s":"K","x":28,"y":-0.255},{"c":"LB5","s":"K","x":30,"y":-0.24},{"c":"LB5","s":"K","x":33,"y":-0.222},{"c":"LB5","s":"K","x":36,"y":-0.21},{"c":"LB5","s":"K","x":40,"y":-0.203},
{"c":"LB6","s":"K","x":0,"y":-0.399},{"c":"LB6","s":"K","x":0.5,"y":-0.399},{"c":"LB6","s":"K","x":1.5,"y":-0.39},{"c":"LB6","s":"K","x":3,"y":-0.38},{"c":"LB6","s":"K","x":4.5,"y":-0.385},{"c":"LB6","s":"K","x":5.5,"y":-0.38},{"c":"LB6","s":"K","x":7,"y":-0.36},{"c":"LB6","s":"K","x":8.5,"y":-0.358},{"c":"LB6","s":"K","x":10,"y":-0.362},{"c":"LB6","s":"K","x":11,"y":-0.352},{"c":"LB6","s":"K","x":12.5,"y":-0.332},{"c":"LB6","s":"K","x":14,"y":-0.33},{"c":"LB6","s":"K","x":15.5,"y":-0.336},{"c":"LB6","s":"K","x":17,"y":-0.322},{"c":"LB6","s":"K","x":18.5,"y":-0.305},{"c":"LB6","s":"K","x":20,"y":-0.308},{"c":"LB6","s":"K","x":22,"y":-0.31},{"c":"LB6","s":"K","x":24,"y":-0.295},{"c":"LB6","s":"K","x":26,"y":-0.29},{"c":"LB6","s":"K","x":28,"y":-0.295},{"c":"LB6","s":"K","x":30,"y":-0.282},{"c":"LB6","s":"K","x":33,"y":-0.262},{"c":"LB6","s":"K","x":36,"y":-0.25},{"c":"LB6","s":"K","x":40,"y":-0.242},
{"c":"LB7","s":"K","x":6,"y":-0.4},{"c":"LB7","s":"K","x":7,"y":-0.395},{"c":"LB7","s":"K","x":8.5,"y":-0.398},{"c":"LB7","s":"K","x":10,"y":-0.39},{"c":"LB7","s":"K","x":11.5,"y":-0.372},{"c":"LB7","s":"K","x":13,"y":-0.37},{"c":"LB7","s":"K","x":14.5,"y":-0.375},{"c":"LB7","s":"K","x":16,"y":-0.36},{"c":"LB7","s":"K","x":17.5,"y":-0.345},{"c":"LB7","s":"K","x":19,"y":-0.348},{"c":"LB7","s":"K","x":21,"y":-0.345},{"c":"LB7","s":"K","x":23,"y":-0.335},{"c":"LB7","s":"K","x":25,"y":-0.33},{"c":"LB7","s":"K","x":27,"y":-0.334},{"c":"LB7","s":"K","x":29,"y":-0.32},{"c":"LB7","s":"K","x":32,"y":-0.3},{"c":"LB7","s":"K","x":35,"y":-0.29},{"c":"LB7","s":"K","x":38,"y":-0.283},{"c":"LB7","s":"K","x":40,"y":-0.281},
{"c":"LB8","s":"K","x":14.5,"y":-0.4},{"c":"LB8","s":"K","x":16,"y":-0.392},{"c":"LB8","s":"K","x":17.5,"y":-0.385},{"c":"LB8","s":"K","x":19,"y":-0.388},{"c":"LB8","s":"K","x":21,"y":-0.38},{"c":"LB8","s":"K","x":23,"y":-0.372},{"c":"LB8","s":"K","x":25,"y":-0.37},{"c":"LB8","s":"K","x":27,"y":-0.372},{"c":"LB8","s":"K","x":29,"y":-0.36},{"c":"LB8","s":"K","x":32,"y":-0.343},{"c":"LB8","s":"K","x":35,"y":-0.332},{"c":"LB8","s":"K","x":38,"y":-0.325},{"c":"LB8","s":"K","x":40,"y":-0.322},
{"c":"LB9","s":"K","x":31,"y":-0.4},{"c":"LB9","s":"K","x":32,"y":-0.39},{"c":"LB9","s":"K","x":34,"y":-0.385},{"c":"LB9","s":"K","x":36,"y":-0.385},{"c":"LB9","s":"K","x":38,"y":-0.375},{"c":"LB9","s":"K","x":40,"y":-0.364},
{"c":"RD1","s":"K'","x":0,"y":-0.164},{"c":"RD1","s":"K'","x":6,"y":-0.164},{"c":"RD1","s":"K'","x":8,"y":-0.166},{"c":"RD1","s":"K'","x":10,"y":-0.172},{"c":"RD1","s":"K'","x":12,"y":-0.183},{"c":"RD1","s":"K'","x":14,"y":-0.198},{"c":"RD1","s":"K'","x":16,"y":-0.215},{"c":"RD1","s":"K'","x":18,"y":-0.233},{"c":"RD1","s":"K'","x":20,"y":-0.252},{"c":"RD1","s":"K'","x":22,"y":-0.27},{"c":"RD1","s":"K'","x":24,"y":-0.29},{"c":"RD1","s":"K'","x":26,"y":-0.31},{"c":"RD1","s":"K'","x":28,"y":-0.33},{"c":"RD1","s":"K'","x":30,"y":-0.352},{"c":"RD1","s":"K'","x":32,"y":-0.375},{"c":"RD1","s":"K'","x":34,"y":-0.4},
{"c":"RD2","s":"K'","x":0,"y":-0.231},{"c":"RD2","s":"K'","x":3,"y":-0.231},{"c":"RD2","s":"K'","x":5,"y":-0.235},{"c":"RD2","s":"K'","x":7,"y":-0.245},{"c":"RD2","s":"K'","x":9,"y":-0.26},{"c":"RD2","s":"K'","x":11,"y":-0.276},{"c":"RD2","s":"K'","x":13,"y":-0.293},{"c":"RD2","s":"K'","x":15,"y":-0.31},{"c":"RD2","s":"K'","x":17,"y":-0.33},{"c":"RD2","s":"K'","x":19,"y":-0.35},{"c":"RD2","s":"K'","x":21,"y":-0.372},{"c":"RD2","s":"K'","x":23.5,"y":-0.4},
{"c":"RD3","s":"K'","x":0,"y":-0.283},{"c":"RD3","s":"K'","x":2,"y":-0.283},{"c":"RD3","s":"K'","x":4,"y":-0.29},{"c":"RD3","s":"K'","x":6,"y":-0.302},{"c":"RD3","s":"K'","x":8,"y":-0.318},{"c":"RD3","s":"K'","x":10,"y":-0.337},{"c":"RD3","s":"K'","x":12,"y":-0.358},{"c":"RD3","s":"K'","x":14,"y":-0.38},{"c":"RD3","s":"K'","x":15.8,"y":-0.4},
{"c":"RD4","s":"K'","x":0,"y":-0.327},{"c":"RD4","s":"K'","x":1.2,"y":-0.327},{"c":"RD4","s":"K'","x":3,"y":-0.335},{"c":"RD4","s":"K'","x":5,"y":-0.35},{"c":"RD4","s":"K'","x":7,"y":-0.368},{"c":"RD4","s":"K'","x":9,"y":-0.39},{"c":"RD4","s":"K'","x":10,"y":-0.4},
{"c":"RD5","s":"K'","x":0,"y":-0.365},{"c":"RD5","s":"K'","x":0.8,"y":-0.365},{"c":"RD5","s":"K'","x":2,"y":-0.372},{"c":"RD5","s":"K'","x":3.5,"y":-0.385},{"c":"RD5","s":"K'","x":5,"y":-0.4},
{"c":"RR1","s":"K'","x":4.5,"y":-0.4},{"c":"RR1","s":"K'","x":6,"y":-0.35},{"c":"RR1","s":"K'","x":8,"y":-0.31},{"c":"RR1","s":"K'","x":9.7,"y":-0.286},{"c":"RR1","s":"K'","x":11,"y":-0.25},{"c":"RR1","s":"K'","x":12.9,"y":-0.201},{"c":"RR1","s":"K'","x":14.9,"y":-0.162},{"c":"RR1","s":"K'","x":17.6,"y":-0.13},{"c":"RR1","s":"K'","x":20.2,"y":-0.11},{"c":"RR1","s":"K'","x":22,"y":-0.1},{"c":"RR1","s":"K'","x":25,"y":-0.088},{"c":"RR1","s":"K'","x":28,"y":-0.082},{"c":"RR1","s":"K'","x":32,"y":-0.079},{"c":"RR1","s":"K'","x":40,"y":-0.078},
{"c":"RR2","s":"K'","x":8.5,"y":-0.4},{"c":"RR2","s":"K'","x":10,"y":-0.37},{"c":"RR2","s":"K'","x":12,"y":-0.33},{"c":"RR2","s":"K'","x":14,"y":-0.3},{"c":"RR2","s":"K'","x":16,"y":-0.26},{"c":"RR2","s":"K'","x":18,"y":-0.225},{"c":"RR2","s":"K'","x":20,"y":-0.195},{"c":"RR2","s":"K'","x":22,"y":-0.17},{"c":"RR2","s":"K'","x":25,"y":-0.148},{"c":"RR2","s":"K'","x":28,"y":-0.135},{"c":"RR2","s":"K'","x":32,"y":-0.127},{"c":"RR2","s":"K'","x":36,"y":-0.124},{"c":"RR2","s":"K'","x":40,"y":-0.123},
{"c":"RR3","s":"K'","x":13,"y":-0.4},{"c":"RR3","s":"K'","x":15,"y":-0.37},{"c":"RR3","s":"K'","x":17,"y":-0.335},{"c":"RR3","s":"K'","x":19,"y":-0.3},{"c":"RR3","s":"K'","x":21,"y":-0.27},{"c":"RR3","s":"K'","x":23,"y":-0.242},{"c":"RR3","s":"K'","x":25,"y":-0.218},{"c":"RR3","s":"K'","x":28,"y":-0.19},{"c":"RR3","s":"K'","x":31,"y":-0.175},{"c":"RR3","s":"K'","x":35,"y":-0.167},{"c":"RR3","s":"K'","x":40,"y":-0.164},
{"c":"RR4","s":"K'","x":17,"y":-0.4},{"c":"RR4","s":"K'","x":19,"y":-0.37},{"c":"RR4","s":"K'","x":21,"y":-0.34},{"c":"RR4","s":"K'","x":23,"y":-0.31},{"c":"RR4","s":"K'","x":25,"y":-0.283},{"c":"RR4","s":"K'","x":28,"y":-0.248},{"c":"RR4","s":"K'","x":31,"y":-0.224},{"c":"RR4","s":"K'","x":34,"y":-0.21},{"c":"RR4","s":"K'","x":37,"y":-0.202},{"c":"RR4","s":"K'","x":40,"y":-0.198},
{"c":"RR5","s":"K'","x":21.5,"y":-0.4},{"c":"RR5","s":"K'","x":24,"y":-0.365},{"c":"RR5","s":"K'","x":26,"y":-0.338},{"c":"RR5","s":"K'","x":28,"y":-0.312},{"c":"RR5","s":"K'","x":31,"y":-0.28},{"c":"RR5","s":"K'","x":34,"y":-0.256},{"c":"RR5","s":"K'","x":37,"y":-0.24},{"c":"RR5","s":"K'","x":40,"y":-0.231},
{"c":"RR6","s":"K'","x":26,"y":-0.4},{"c":"RR6","s":"K'","x":28,"y":-0.373},{"c":"RR6","s":"K'","x":30,"y":-0.345},{"c":"RR6","s":"K'","x":32,"y":-0.32},{"c":"RR6","s":"K'","x":35,"y":-0.29},{"c":"RR6","s":"K'","x":38,"y":-0.272},{"c":"RR6","s":"K'","x":40,"y":-0.265},
{"c":"RR7","s":"K'","x":30,"y":-0.4},{"c":"RR7","s":"K'","x":32,"y":-0.375},{"c":"RR7","s":"K'","x":34,"y":-0.35},{"c":"RR7","s":"K'","x":36,"y":-0.328},{"c":"RR7","s":"K'","x":38,"y":-0.312},{"c":"RR7","s":"K'","x":40,"y":-0.3},
{"c":"RR8","s":"K'","x":34.5,"y":-0.4},{"c":"RR8","s":"K'","x":36,"y":-0.383},{"c":"RR8","s":"K'","x":38,"y":-0.36},{"c":"RR8","s":"K'","x":40,"y":-0.341},
{"c":"RR9","s":"K'","x":38.5,"y":-0.4},{"c":"RR9","s":"K'","x":40,"y":-0.377}
],
"TA":[{"t":"(a)","x":1.4,"y":0.425,"k":"n"},{"t":"Isolated BLG QR","x":21.5,"y":0.419,"k":"n"},{"t":"K'","x":9.7,"y":0.054,"k":"K'"},{"t":"K","x":9.6,"y":-0.06,"k":"K"}],
"TB":[{"t":"(b)","x":0.1,"y":0.425,"k":"n"},{"t":"Hybrid BLG QR","x":21.4,"y":0.419,"k":"n"}],
"G":[{"y":0.227},{"y":0.197},{"y":0.162},{"y":0.122},{"y":0.077},{"y":0},{"y":-0.079},{"y":-0.124},{"y":-0.164},{"y":-0.199},{"y":-0.23}],
"L":[{"y":0.398},{"y":0.363},{"y":0.325},{"y":0.281},{"y":0.228},{"y":0.162},{"y":0},{"y":-0.164},{"y":-0.231},{"y":-0.283},{"y":-0.327},{"y":-0.365},{"y":-0.4}]
},
"spacing":41,
"bounds":"flush",
"hconcat":[
{"width":256,"height":411,
"layer":[
{"data":{"values":[{}]},"mark":{"type":"rule","color":"#3a3a3a","strokeWidth":1.6},"encoding":{"y":{"datum":0,"type":"quantitative","axis":null}}},
{"data":{"name":"A"},"mark":{"type":"line","interpolate":"monotone","strokeWidth":1.3},
"encoding":{
"x":{"field":"x","type":"quantitative","scale":{"domain":[0,40],"nice":false},"axis":{"title":"W (nm)","values":[0,2,4,6,8,10,12,14,16,18,20,22,24,26,28,30,32,34,36,38,40],"labelExpr":"datum.value % 10 == 0 ? datum.label : ''","labelPadding":20,"titlePadding":7}},
"y":{"field":"y","type":"quantitative","scale":{"domain":[-0.4,0.4],"nice":false},"axis":{"title":"E(eV)","values":[-0.4,-0.35,-0.3,-0.25,-0.2,-0.15,-0.1,-0.05,0,0.05,0.1,0.15,0.2,0.25,0.3,0.35,0.4],"labelExpr":"abs(round(datum.value*20)) % 4 == 0 ? replace(format(datum.value,'.1f'),'\u2212','-') : ''","labelPadding":-2,"titlePadding":23,"labelOffset":{"condition":{"test":"datum.value > 0.39","value":7},"value":0}}},
"color":{"field":"s","type":"nominal","scale":{"domain":["K","K'","n"],"range":["#1010ff","#ff1a1a","#000000"]},"legend":null},
"strokeDash":{"field":"s","type":"nominal","scale":{"domain":["K","K'"],"range":[[1,0],[4,2.5]]},"legend":null},
"detail":{"field":"c"}}},
{"data":{"name":"G"},"mark":{"type":"rule","color":"#8a8a8a","strokeWidth":2},
"encoding":{"x":{"datum":40,"type":"quantitative","axis":{"orient":"top","labels":false,"title":null,"values":[0,2,4,6,8,10,12,14,16,18,20,22,24,26,28,30,32,34,36,38,40]}},"x2":{"datum":41.5},
"y":{"field":"y","type":"quantitative","axis":{"orient":"right","labels":false,"title":null,"values":[-0.4,-0.35,-0.3,-0.25,-0.2,-0.15,-0.1,-0.05,0,0.05,0.1,0.15,0.2,0.25,0.3,0.35,0.4]}}}},
{"data":{"name":"TA"},"mark":{"type":"text","fontSize":19.5,"align":"center","baseline":"middle"},
"encoding":{"x":{"field":"x","type":"quantitative","axis":null},"y":{"field":"y","type":"quantitative","axis":null},"text":{"field":"t"},
"color":{"field":"k","type":"nominal","scale":{"domain":["K","K'","n"],"range":["#1010ff","#ff1a1a","#000000"]},"legend":null}}}
],
"resolve":{"axis":{"x":"independent","y":"independent"}}},
{"width":256,"height":411,
"layer":[
{"data":{"values":[{}]},"mark":{"type":"rule","color":"#3a3a3a","strokeWidth":1.6},"encoding":{"y":{"datum":0,"type":"quantitative","axis":null}}},
{"data":{"name":"B"},"mark":{"type":"line","interpolate":"monotone","strokeWidth":1.3},
"encoding":{
"x":{"field":"x","type":"quantitative","scale":{"domain":[0,40],"nice":false},"axis":{"title":"W (nm)","values":[0,2,4,6,8,10,12,14,16,18,20,22,24,26,28,30,32,34,36,38,40],"labelExpr":"datum.value % 10 == 0 ? datum.label : ''","labelPadding":20,"titlePadding":7}},
"y":{"field":"y","type":"quantitative","scale":{"domain":[-0.4,0.4],"nice":false},"axis":{"title":null,"labels":false,"values":[-0.4,-0.35,-0.3,-0.25,-0.2,-0.15,-0.1,-0.05,0,0.05,0.1,0.15,0.2,0.25,0.3,0.35,0.4]}},
"color":{"field":"s","type":"nominal","scale":{"domain":["K","K'","n"],"range":["#1010ff","#ff1a1a","#000000"]},"legend":null},
"strokeDash":{"field":"s","type":"nominal","scale":{"domain":["K","K'"],"range":[[1,0],[4,2.5]]},"legend":null},
"detail":{"field":"c"}}},
{"data":{"name":"G"},"mark":{"type":"rule","color":"#8a8a8a","strokeWidth":2},
"encoding":{"x":{"datum":40,"type":"quantitative","axis":{"orient":"top","labels":false,"title":null,"values":[0,2,4,6,8,10,12,14,16,18,20,22,24,26,28,30,32,34,36,38,40]}},"x2":{"datum":41.5},
"y":{"field":"y","type":"quantitative","axis":{"orient":"right","labels":false,"title":null,"values":[-0.4,-0.35,-0.3,-0.25,-0.2,-0.15,-0.1,-0.05,0,0.05,0.1,0.15,0.2,0.25,0.3,0.35,0.4]}}}},
{"data":{"name":"L"},"mark":{"type":"rule","color":"#44dd44","strokeWidth":2},
"encoding":{"x":{"datum":-1.55,"type":"quantitative","axis":null},"x2":{"datum":0},"y":{"field":"y","type":"quantitative","axis":null}}},
{"data":{"name":"TB"},"mark":{"type":"text","fontSize":19.5,"align":"center","baseline":"middle"},
"encoding":{"x":{"field":"x","type":"quantitative","axis":null},"y":{"field":"y","type":"quantitative","axis":null},"text":{"field":"t"},
"color":{"field":"k","type":"nominal","scale":{"domain":["K","K'","n"],"range":["#1010ff","#ff1a1a","#000000"]},"legend":null}}}
],
"resolve":{"axis":{"x":"independent","y":"independent"}}}
]
}
